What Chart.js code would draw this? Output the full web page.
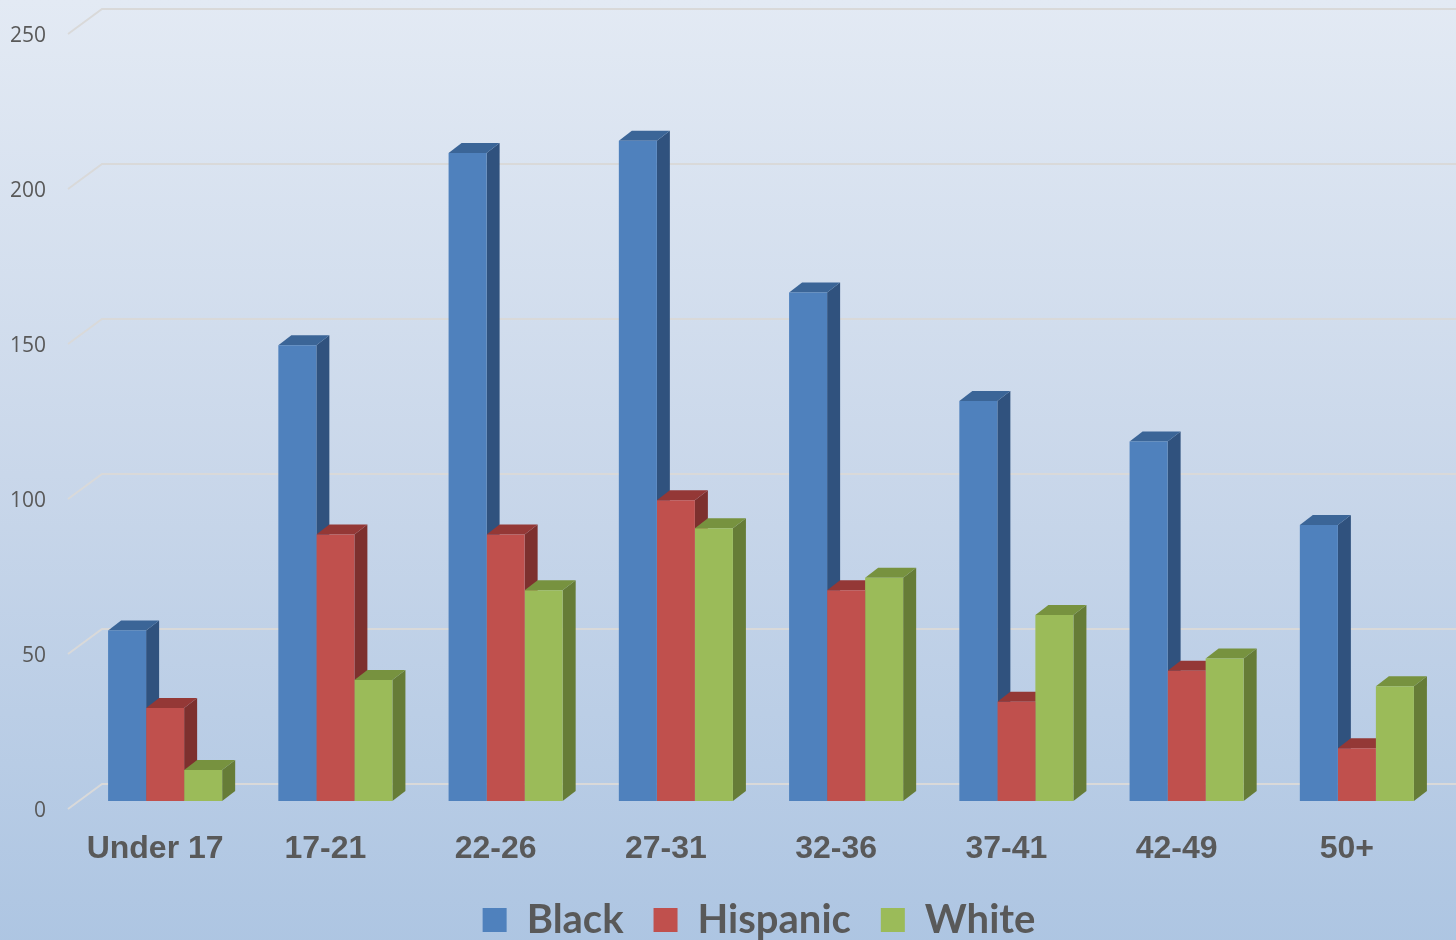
<!DOCTYPE html>
<html>
<head>
<meta charset="utf-8">
<script src="https://cdn.jsdelivr.net/npm/chart.js@4/dist/chart.umd.min.js"></script>
<style>
    html, body {
        margin: 0;
        padding: 0;
        width: 1456px;
        height: 940px;
        overflow: hidden;
    }
    #wrap {
        position: relative;
        width: 1456px;
        height: 950px;
        background: linear-gradient(to bottom, #e3eaf4 0%, #c9d7ea 50%, #adc5e2 100%);
    }
</style>
</head>
<body>
<div id="wrap"><canvas id="ageChart"></canvas></div>
<script>
const categories = ['Under 17', '17-21', '22-26', '27-31', '32-36', '37-41', '42-49', '50+'];
const black = [55, 147, 209, 213, 164, 129, 116, 89];
const hispanic = [30, 86, 86, 97, 68, 32, 42, 17];
const white = [10, 39, 68, 88, 72, 60, 46, 37];
const yMax = 250;
const yStep = 50;

// front / side / top colours for each series
const shades = [
    { front: '#4f81bd', side: '#30527e', top: '#3b6597' },
    { front: '#c0504d', side: '#7d302e', top: '#943836' },
    { front: '#9bbb59', side: '#667c37', top: '#77923f' },
];

const DX = 13;   // depth offset of the 3D faces
const DY = -10;

// back wall grid lines + the little diagonal on the left
const wallGrid = {
    id: 'wallGrid',
    beforeDatasetsDraw(chart) {
        const { ctx, chartArea, scales: { y } } = chart;
        ctx.save();
        ctx.strokeStyle = '#d9d9d9';
        ctx.lineWidth = 2;
        y.ticks.forEach(t => {
            const py = y.getPixelForValue(t.value);
            ctx.beginPath();
            ctx.moveTo(chartArea.left - 12, py + 8);
            ctx.lineTo(chartArea.left + 22, py - 17);
            ctx.lineTo(chart.width, py - 17);
            ctx.stroke();
        });
        ctx.restore();
    }
};

// side and top faces, drawn left to right so the fronts cover them properly
const bar3d = {
    id: 'bar3d',
    beforeDatasetsDraw(chart) {
        const ctx = chart.ctx;
        const metas = chart.data.datasets.map((d, i) => chart.getDatasetMeta(i));
        ctx.save();
        for (let i = 0; i < categories.length; i++) {
            metas.forEach((meta, di) => {
                const bar = meta.data[i];
                if (!bar) return;
                const { x, y, base, width } = bar.getProps(['x', 'y', 'base', 'width'], true);
                const l = x - width / 2;
                const r = x + width / 2;
                const c = shades[di];

                ctx.fillStyle = c.side;
                ctx.beginPath();
                ctx.moveTo(r, y);
                ctx.lineTo(r + DX, y + DY);
                ctx.lineTo(r + DX, base + DY);
                ctx.lineTo(r, base);
                ctx.closePath();
                ctx.fill();

                ctx.fillStyle = c.top;
                ctx.beginPath();
                ctx.moveTo(l, y);
                ctx.lineTo(l + DX, y + DY);
                ctx.lineTo(r + DX, y + DY);
                ctx.lineTo(r, y);
                ctx.closePath();
                ctx.fill();
            });
        }
        ctx.restore();
    }
};

// the legend sits a bit right of the canvas centre in the original
const legendShift = {
    id: 'legendShift',
    afterLayout(chart) {
        if (chart.legend) {
            chart.legend.left += 38;
            chart.legend.right += 38;
        }
    }
};

const ctx = document.getElementById('ageChart').getContext('2d');
new Chart(ctx, {
    type: 'bar',
    data: {
        labels: categories,
        datasets: [
            { label: 'Black', data: black, backgroundColor: shades[0].front },
            { label: 'Hispanic', data: hispanic, backgroundColor: shades[1].front },
            { label: 'White', data: white, backgroundColor: shades[2].front },
        ].map(d => Object.assign(d, {
            categoryPercentage: 0.67,
            barPercentage: 1,
            borderWidth: 0,
        })),
    },
    options: {
        responsive: true,
        maintainAspectRatio: false,
        animation: false,
        layout: { padding: { top: 26, right: 14, left: 0, bottom: 0 } },
        plugins: {
            tooltip: { enabled: false },
            legend: {
                position: 'bottom',
                labels: {
                    boxWidth: 24,
                    boxHeight: 24,
                    padding: 30,
                    color: '#595959',
                    font: { family: 'Lato', size: 40, weight: 'bold' },
                },
            },
        },
        scales: {
            x: {
                grid: { display: false, drawTicks: false },
                border: { display: false },
                ticks: {
                    color: '#595959',
                    font: { family: 'Liberation Sans', size: 32, weight: 'bold' },
                    padding: 29,
                    labelOffset: -10,
                    maxRotation: 0,
                    autoSkip: false,
                },
                afterFit(scale) {
                    scale.height = 69;
                    scale.paddingLeft = 0;
                    scale.paddingRight = 0;
                },
            },
            y: {
                min: 0,
                max: yMax,
                grid: { display: false, drawTicks: false },
                border: { display: false },
                ticks: {
                    stepSize: yStep,
                    color: '#595959',
                    font: { family: 'Open Sans', size: 21 },
                    padding: 34,
                    labelOffset: 10,
                },
                afterFit(scale) {
                    scale.width = 80;
                    scale.paddingTop = 0;
                    scale.paddingBottom = 0;
                },
            },
        },
    },
    plugins: [wallGrid, bar3d, legendShift],
});
</script>
</body>
</html>
